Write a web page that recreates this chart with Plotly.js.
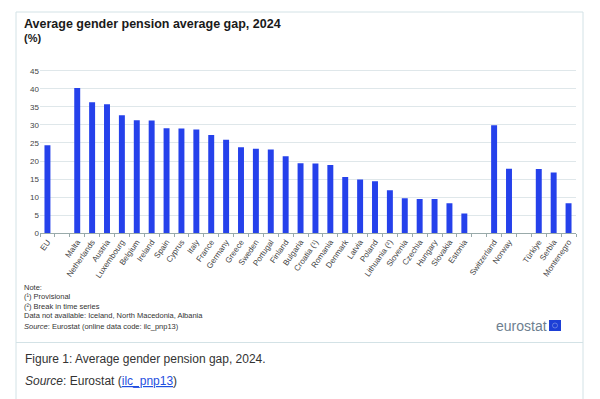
<!DOCTYPE html>
<html>
<head>
<meta charset="utf-8">
<script src="https://cdn.plot.ly/plotly-3.0.1.min.js"></script>
<style>
html,body{margin:0;padding:0;background:#fff;}
#chart{width:600px;height:399px;}
</style>
</head>
<body>
<div id="chart"></div>
<script>
// Data (categories incl. blank separator slots)
const countries = ["EU", " ", "Malta", "Netherlands", "Austria", "Luxembourg", "Belgium", "Ireland", "Spain", "Cyprus", "Italy", "France", "Germany", "Greece", "Sweden", "Portugal", "Finland", "Bulgaria", "Croatia (¹)", "Romania", "Denmark", "Latvia", "Poland", "Lithuania (²)", "Slovenia", "Czechia", "Hungary", "Slovakia", "Estonia", "  ", "Switzerland", "Norway", "   ", "Türkiye", "Serbia", "Montenegro"];
const gapValues = [24.4, null, 40.2, 36.3, 35.7, 32.7, 31.3, 31.2, 29.1, 29.0, 28.7, 27.2, 25.9, 23.8, 23.4, 23.2, 21.3, 19.4, 19.3, 18.9, 15.6, 14.9, 14.4, 11.9, 9.7, 9.5, 9.5, 8.3, 5.5, null, 29.9, 17.9, null, 17.8, 16.8, 8.3];
const yTicks = [0, 5, 10, 15, 20, 25, 30, 35, 40, 45];

const W = 600, H = 399;
const px = x => x / W;
const py = y => 1 - y / H;

const trace = {
  type: "bar",
  x: countries,
  y: gapValues,
  marker: {color: "#2541eb"},
  hoverinfo: "x+y"
};

const noteFont = {family: "Liberation Sans, Arial, sans-serif", size: 7.5, color: "#333"};
const annotations = [
  {text: "<b>Average gender pension average gap, 2024</b>", x: px(22), y: py(24), xanchor: "left", yanchor: "middle", font: {family: "Liberation Sans, Arial, sans-serif", size: 12.5, color: "#1a1a1a"}},
  {text: "<b>(%)</b>", x: px(22), y: py(37.5), xanchor: "left", yanchor: "middle", font: {family: "Liberation Sans, Arial, sans-serif", size: 11, color: "#1a1a1a"}},
  {text: "Note:", x: px(22), y: py(287), xanchor: "left", yanchor: "middle", font: noteFont},
  {text: "(¹) Provisional", x: px(22), y: py(296.5), xanchor: "left", yanchor: "middle", font: noteFont},
  {text: "(²) Break in time series", x: px(22), y: py(306), xanchor: "left", yanchor: "middle", font: noteFont},
  {text: "Data not available: Iceland, North Macedonia, Albania", x: px(22), y: py(315.5), xanchor: "left", yanchor: "middle", font: noteFont},
  {text: "<i>Source</i>: Eurostat (online data code: ilc_pnp13)", x: px(22), y: py(326), xanchor: "left", yanchor: "middle", font: noteFont},
  {text: "eurostat", x: px(548.5), y: py(325.5), xanchor: "right", yanchor: "middle", font: {family: "Liberation Sans, Arial, sans-serif", size: 14, color: "#6e7f90"}},
  {text: "Figure 1: Average gender pension gap, 2024.", x: px(23), y: py(359), xanchor: "left", yanchor: "middle", font: {family: "Liberation Sans, Arial, sans-serif", size: 12, color: "#333"}},
  {text: "<i>Source</i>: Eurostat (<span style='color:#1f4fe0;text-decoration:underline'>ilc_pnp13</span>)", x: px(23), y: py(381), xanchor: "left", yanchor: "middle", font: {family: "Liberation Sans, Arial, sans-serif", size: 12, color: "#333"}}
].map(a => Object.assign({xref: "paper", yref: "paper", showarrow: false}, a));

const shapes = [
  {type: "rect", xref: "paper", yref: "paper", x0: px(16), x1: px(583), y0: py(402), y1: py(12), line: {color: "#d3e2e6", width: 1}},
  {type: "line", xref: "paper", yref: "paper", x0: px(16), x1: px(583), y0: py(342.5), y1: py(342.5), line: {color: "#d3e2e6", width: 1}},
  {type: "rect", xref: "paper", yref: "paper", x0: px(549), x1: px(561), y0: py(331), y1: py(320), fillcolor: "#1d3fd6", line: {width: 0}},
  {type: "circle", xref: "paper", yref: "paper", x0: px(552.5), x1: px(557.5), y0: py(328), y1: py(323), line: {color: "#8fa2e8", width: 0.6}}
];

const layout = {
  width: W, height: H,
  margin: {l: 0, r: 0, t: 0, b: 0},
  paper_bgcolor: "#fff",
  plot_bgcolor: "#fff",
  showlegend: false,
  bargap: 0.6,
  font: {family: "Liberation Sans, Arial, sans-serif", color: "#444"},
  xaxis: {
    domain: [px(40), px(576)],
    type: "category",
    categoryorder: "array",
    categoryarray: countries,
    tickangle: -55,
    tickson: "boundaries",
    ticks: "outside",
    ticklen: 3,
    tickcolor: "#9aa",
    showline: true,
    linecolor: "#9aa",
    linewidth: 1,
    showgrid: false,
    tickfont: {size: 8, color: "#444"},
    automargin: false,
    fixedrange: true
  },
  yaxis: {
    domain: [py(233.3), py(233.3 - 46 * 3.613)],
    range: [0, 46],
    tickvals: yTicks,
    ticktext: yTicks.map(String),
    showgrid: true,
    gridcolor: "#dfe7ea",
    gridwidth: 1,
    zeroline: false,
    showline: false,
    ticks: "",
    tickfont: {size: 8, color: "#444"},
    automargin: false,
    fixedrange: true
  },
  annotations: annotations,
  shapes: shapes
};

Plotly.newPlot("chart", [trace], layout, {displayModeBar: false, staticPlot: true});
</script>
</body>
</html>
